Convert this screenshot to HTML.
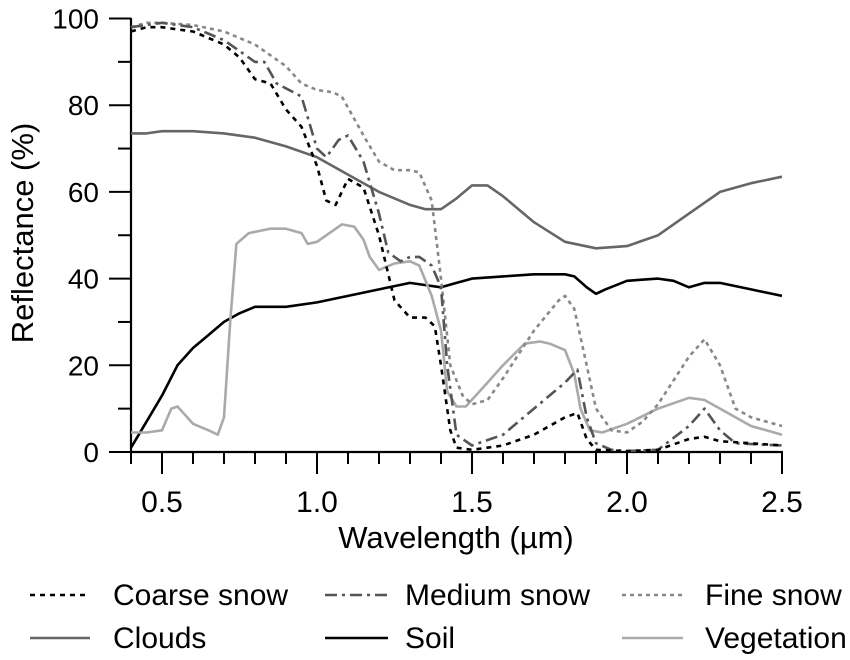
<!DOCTYPE html>
<html><head><meta charset="utf-8"><style>
body{margin:0;background:#fff}
svg{display:block;font-family:"Liberation Sans",Arial,sans-serif}
</style></head><body>
<svg id="chart" width="850" height="660" viewBox="0 0 850 660">
<g id="axes"></g>
<g id="series"></g>
<g id="legend"></g>
</svg>
<script>
const xTickLabels=[0.5,1.0,1.5,2.0,2.5];
const yTickLabels=[0,20,40,60,80,100];
const coarseWl=[0.4,0.45,0.5,0.6,0.7,0.75,0.8,0.85,0.9,0.95,1.0,1.03,1.06,1.1,1.15,1.2,1.25,1.3,1.35,1.38,1.4,1.43,1.45,1.5,1.6,1.7,1.8,1.84,1.87,1.9,2.0,2.1,2.2,2.25,2.3,2.4,2.5];
const coarseVal=[97,98,98,97,94,91,86,85,79,75,66,58,57,63,61,50,35,31,31,29,20,5,1,0.5,1.5,4,8,9,3,0.5,0.2,0.5,3,3.5,2.5,2,1.5];
const mediumWl=[0.4,0.5,0.6,0.7,0.8,0.83,0.87,0.95,1.0,1.03,1.07,1.1,1.15,1.2,1.23,1.27,1.3,1.33,1.37,1.4,1.42,1.45,1.5,1.6,1.7,1.8,1.84,1.87,1.9,1.95,2.0,2.1,2.2,2.25,2.3,2.35,2.5];
const mediumVal=[98,99,98,95,90,90,85,82,70,68,72,73,67,55,46,44,45,45,43,38,20,4,1.5,4,10,16,19,8,2,0.5,0.2,0.5,6,10,5,2,1.5];
const fineWl=[0.4,0.45,0.5,0.6,0.7,0.8,0.9,0.95,1.0,1.05,1.08,1.15,1.2,1.25,1.3,1.33,1.37,1.4,1.43,1.47,1.5,1.55,1.6,1.7,1.78,1.8,1.83,1.87,1.9,1.95,2.0,2.05,2.1,2.2,2.25,2.3,2.35,2.4,2.5];
const fineVal=[98,99,99,98.5,97,94,89,85,83.5,83,82,73,67,65,65,64.5,58,40,20,13,11,12,17,28,35,36,33,20,10,5,4.5,7,11,22,26,20,10,8,6];
const cloudsWl=[0.4,0.45,0.5,0.6,0.7,0.8,0.9,1.0,1.1,1.2,1.3,1.35,1.4,1.45,1.5,1.55,1.6,1.7,1.8,1.9,2.0,2.1,2.2,2.3,2.4,2.5];
const cloudsVal=[73.5,73.5,74,74,73.5,72.5,70.5,68,64,60,57,56,56,58.5,61.5,61.5,59,53,48.5,47,47.5,50,55,60,62,63.5];
const soilWl=[0.4,0.45,0.5,0.55,0.6,0.65,0.7,0.75,0.8,0.9,1.0,1.1,1.2,1.3,1.35,1.4,1.45,1.5,1.6,1.7,1.8,1.83,1.87,1.9,1.93,2.0,2.1,2.15,2.2,2.25,2.3,2.4,2.5];
const soilVal=[1,7,13,20,24,27,30,32,33.5,33.5,34.5,36,37.5,39,38.5,38,39,40,40.5,41,41,40.5,38,36.5,37.5,39.5,40,39.5,38,39,39,37.5,36];
const vegWl=[0.4,0.45,0.5,0.53,0.55,0.6,0.65,0.68,0.7,0.72,0.74,0.78,0.85,0.9,0.95,0.97,1.0,1.05,1.08,1.12,1.15,1.17,1.2,1.25,1.3,1.33,1.37,1.4,1.42,1.45,1.48,1.55,1.6,1.67,1.72,1.75,1.8,1.83,1.85,1.88,1.92,2.0,2.1,2.2,2.25,2.3,2.4,2.5];
const vegVal=[4.5,4.5,5,10,10.5,6.5,5,4,8,30,48,50.5,51.5,51.5,50.5,48,48.5,51,52.5,52,49,45,42,43.5,44,43,36,28,14,10.5,10.5,16,20,25,25.5,25,23.5,18,10,5,4.5,6.5,10,12.5,12,10,6,4];

const NS='http://www.w3.org/2000/svg';
const X=w=>131+(w-0.4)*310;
const Y=v=>452-v*4.335;
function mk(tag,attrs,parent){const e=document.createElementNS(NS,tag);for(const k in attrs)e.setAttribute(k,attrs[k]);parent.appendChild(e);return e;}
const axes=document.getElementById('axes');
const ax1=mk('line',{x1:131,y1:18,x2:131,y2:452,stroke:'#000','stroke-width':2.2},axes);


const ax2=mk('line',{x1:130,y1:452,x2:783,y2:452,stroke:'#000','stroke-width':2.2},axes);


for(let v=0;v<=100;v+=10){const major=v%20===0;
 const t=mk('line',{x1:major?109:118,y1:Y(v),x2:131,y2:Y(v),stroke:'#000','stroke-width':2},axes);
 
 }
for(let i=4;i<=25;i++){const w=i/10;const major=i%5===0;
 const t=mk('line',{x1:X(w),y1:452,x2:X(w),y2:major?474:464,stroke:'#000','stroke-width':2},axes);
 
 }
yTickLabels.forEach(v=>{const t=mk('text',{x:99,y:Y(v)+10,'text-anchor':'end','font-size':28},axes);t.textContent=String(v);
 
 });
xTickLabels.forEach(v=>{const t=mk('text',{x:X(v),y:512,'text-anchor':'middle','font-size':30},axes);t.textContent=v.toFixed(1);
 
 });
const xt=mk('text',{x:456,y:548,'text-anchor':'middle','font-size':31},axes);xt.textContent='Wavelength (µm)';


const yt=mk('text',{x:0,y:0,'text-anchor':'middle','font-size':31,transform:'translate(33,233) rotate(-90)'},axes);yt.textContent='Reflectance (%)';



const styles={
 coarse:{c:'#000',d:'5,5'},medium:{c:'#555',d:'12,5,3,5'},fine:{c:'#888',d:'4,4'},
 clouds:{c:'#666',d:''},soil:{c:'#000',d:''},veg:{c:'#aaa',d:''}};
const seriesG=document.getElementById('series');
function drawSeries(wl,val,st,name){
 const pts=wl.map((w,i)=>X(w).toFixed(1)+','+Y(val[i]).toFixed(1)).join(' ');
 const p=mk('polyline',{points:pts,fill:'none',stroke:st.c,'stroke-width':2.6,'stroke-linejoin':'round','stroke-dasharray':st.d},seriesG);
 
 }
drawSeries(cloudsWl,cloudsVal,styles.clouds,'clouds-line');
drawSeries(soilWl,soilVal,styles.soil,'soil-line');
drawSeries(vegWl,vegVal,styles.veg,'vegetation-line');
drawSeries(fineWl,fineVal,styles.fine,'fine-snow-line');
drawSeries(mediumWl,mediumVal,styles.medium,'medium-snow-line');
drawSeries(coarseWl,coarseVal,styles.coarse,'coarse-snow-line');

const legend=document.getElementById('legend');
const legendNames=['Coarse snow','Medium snow','Fine snow','Clouds','Soil','Vegetation'];
const legendKeys=['coarse','medium','fine','clouds','soil','veg'];
const colX=[[30,90,113],[325,388,405],[622,683,705]];
legendNames.forEach((n,i)=>{const c=colX[i%3];const y=i<3?595:638;const st=styles[legendKeys[i]];
 const g=mk('g',{},legend);
 
 
 mk('line',{x1:c[0],y1:y,x2:c[1],y2:y,stroke:st.c,'stroke-width':2.6,'stroke-dasharray':st.d},g);
 const t=mk('text',{x:c[2],y:y+10,'font-size':30},g);t.textContent=n;});
</script>
</body></html>
